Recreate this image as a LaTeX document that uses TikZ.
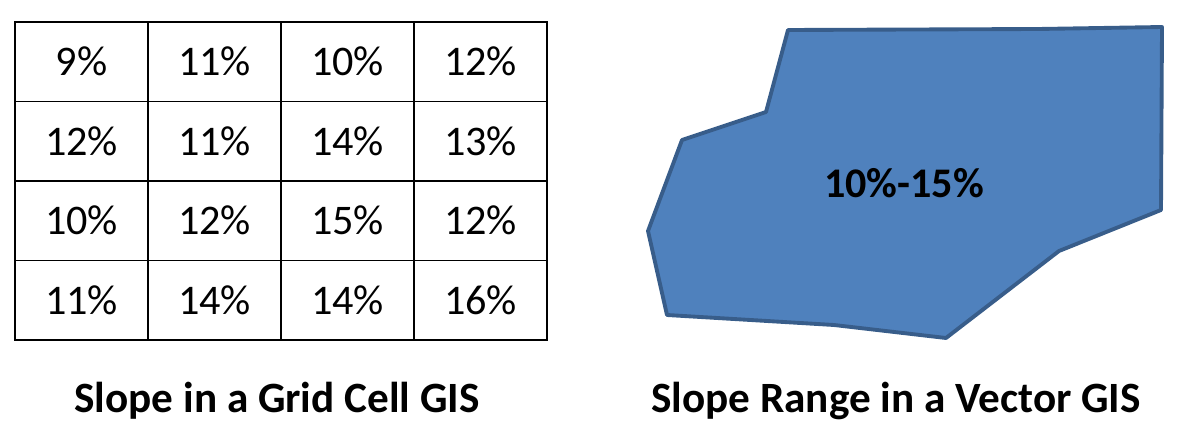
\documentclass[tikz,border=0pt]{standalone}
\usepackage{fontspec}
\setmainfont{Carlito}
\usetikzlibrary{positioning}
\definecolor{areafill}{HTML}{4F81BD}
\definecolor{areaedge}{HTML}{385D8A}
\tikzstyle{cell} = [draw, line width=1.1pt, minimum width=2.66cm,
  minimum height=1.59cm, inner sep=0pt, font=\fontsize{24}{28}\selectfont]
\tikzstyle{caption} = [font=\bfseries\fontsize{24.6}{29}\selectfont]
\tikzstyle{area} = [fill=areafill, draw=areaedge, line width=2.2pt,
  line join=round]
\newcommand{\slopecell}[3]{node (c#1#2) [cell] at ({15+133*(#2-0.5)},{22+79.5*(#1-0.5)}) {#3\%}}

\begin{document}
\begin{tikzpicture}[x=0.02cm, y=-0.02cm]
\useasboundingbox (0,0) rectangle (1180,446);
% Grid of slope values
\foreach \r/\vals in {1/{9,11,10,12}, 2/{12,11,14,13},
                      3/{10,12,15,12}, 4/{11,14,14,16}}
  \foreach \v [count=\c] in \vals
    \path \slopecell{\r}{\c}{\v};

% Vector polygon
\draw[area] (788,30) -- (1038,29) -- (1162,27) -- (1161,210) -- (1059,251)
  -- (946,338) -- (834,325) -- (667,315) -- (648,231) -- (682,140)
  -- (766,112) -- cycle;
\node (range) [font=\bfseries\fontsize{24}{28}\selectfont] at (904,183) {10\%-15\%};

% Captions
\node (gridcap) [caption] at (277,401) {Slope in a Grid Cell GIS};
\node (veccap) [caption] at (896,401) {Slope Range in a Vector GIS};
\end{tikzpicture}
\end{document}
